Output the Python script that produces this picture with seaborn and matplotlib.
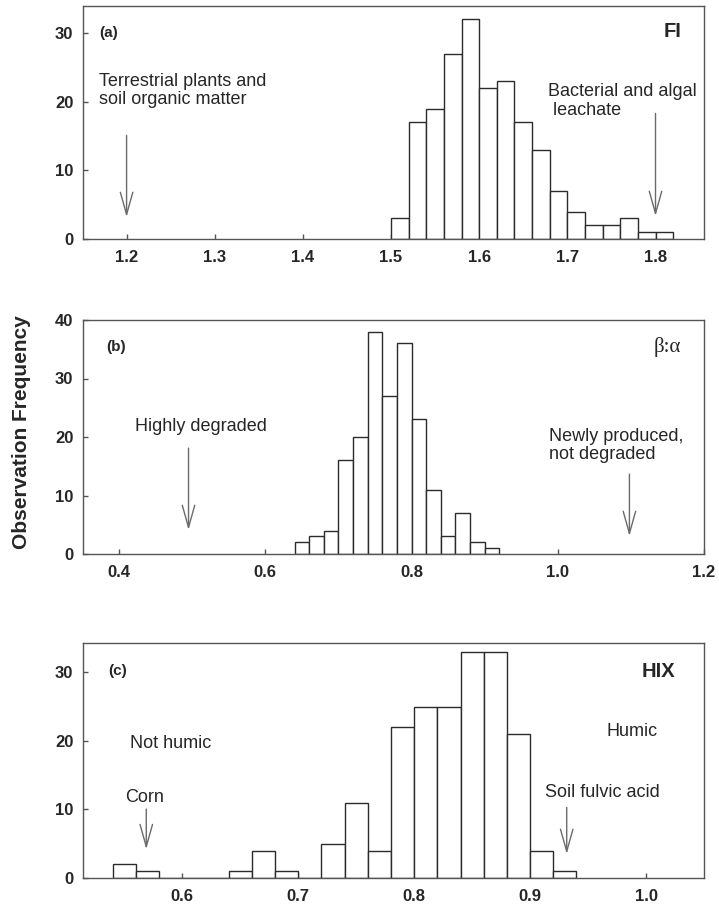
import matplotlib
matplotlib.use("Agg")
import matplotlib.pyplot as plt
import seaborn as sns
import numpy as np
import pandas as pd

# ---------------- data ----------------
# (a) FI
fi_bin_left = [1.50, 1.52, 1.54, 1.56, 1.58, 1.60, 1.62, 1.64, 1.66, 1.68,
               1.70, 1.72, 1.74, 1.76, 1.78, 1.80]
fi_counts = [3, 17, 19, 27, 32, 22, 23, 17, 13, 7, 4, 2, 2, 3, 1, 1]

# (b) beta:alpha
ba_bin_left = [0.64, 0.66, 0.68, 0.70, 0.72, 0.74, 0.76, 0.78, 0.80, 0.82,
               0.84, 0.86, 0.88, 0.90]
ba_counts = [2, 3, 4, 16, 20, 38, 27, 36, 23, 11, 3, 7, 2, 1]

# (c) HIX
hix_bin_left = [0.54, 0.56, 0.58, 0.60, 0.62, 0.64, 0.66, 0.68, 0.70, 0.72,
                0.74, 0.76, 0.78, 0.80, 0.82, 0.84, 0.86, 0.88, 0.90, 0.92]
hix_counts = [2, 1, 0, 0, 0, 1, 4, 1, 0, 5, 11, 4, 22, 25, 25, 33, 33, 21, 4, 1]

bin_width = 0.02

fi_xticks = [1.2, 1.3, 1.4, 1.5, 1.6, 1.7, 1.8]
ba_xticks = [0.4, 0.6, 0.8, 1.0, 1.2]
hix_xticks = [0.6, 0.7, 0.8, 0.9, 1.0]

# ---------------- style ----------------
sns.set_style("white")
plt.rcParams['font.family'] = ['Liberation Sans', 'DejaVu Sans']

SPINE = '#555555'
EDGE = '#2b2b2b'
ARROW = '#6a6a6a'

fig = plt.figure(figsize=(7.19, 9.09), dpi=100)
W, H = 719.0, 909.0
left = 82.5 / W
width = (704 - 82.5) / W
ax_a = fig.add_axes([left, (H - 239) / H, width, 233.3 / H])
ax_b = fig.add_axes([left, (H - 554) / H, width, 234 / H])
ax_c = fig.add_axes([left, (H - 878) / H, width, 235 / H])


def draw_hist(ax, bin_left, counts, xlim, ylim, xticks, yticks, xfmt):
    lefts = np.array(bin_left, dtype=float)
    centers = lefts + bin_width / 2
    df = pd.DataFrame({'value': centers, 'count': np.array(counts, dtype=float)})
    sns.histplot(data=df, x='value', weights='count', binwidth=bin_width,
                 binrange=(float(lefts[0]), float(lefts[-1] + bin_width)), ax=ax,
                 color='white', edgecolor=EDGE, linewidth=1.0, alpha=1.0,
                 stat='count')
    ax.set_xlim(*xlim)
    ax.set_ylim(*ylim)
    ax.set_xticks(xticks)
    ax.set_xticklabels([xfmt % t for t in xticks])
    ax.set_yticks(yticks)
    ax.set_yticklabels([str(t) for t in yticks])
    ax.set_xlabel('')
    ax.set_ylabel('')
    for s in ax.spines.values():
        s.set_color(SPINE)
        s.set_linewidth(1.0)
        s.set_visible(True)
    ax.tick_params(axis='x', direction='in', length=3.3, width=1.0,
                   color=SPINE, pad=8, labelsize=12, bottom=True, top=False)
    ax.tick_params(axis='y', direction='in', length=3.3, width=1.0,
                   color=SPINE, pad=6.5, labelsize=12, left=True, right=False)
    for lab in ax.get_xticklabels() + ax.get_yticklabels():
        lab.set_fontweight('bold')
    ax.set_facecolor('white')


def arrow(ax, x, y_top, y_tip):
    ax.annotate('', xy=(x, y_tip), xytext=(x, y_top),
                arrowprops=dict(arrowstyle='->,head_length=1.6,head_width=0.45',
                                color=ARROW, lw=1.0, shrinkA=0, shrinkB=0,
                                mutation_scale=10))


TXT = 13

# (a)
draw_hist(ax_a, fi_bin_left, fi_counts, (1.15, 1.855), (0, 34),
          fi_xticks, [0, 10, 20, 30], '%.1f')
ax_a.text(1.169, 30.0, '(a)', fontsize=11, fontweight='bold', va='center', ha='left')
ax_a.text(1.830, 30.3, 'FI', fontsize=14.5, fontweight='bold', va='center', ha='right')
ax_a.text(1.169, 21.6, 'Terrestrial plants and\nsoil organic matter', fontsize=TXT,
          va='center', ha='left', linespacing=1.1)
ax_a.text(1.678, 20.1, 'Bacterial and algal\n leachate', fontsize=TXT,
          va='center', ha='left', linespacing=1.1)
arrow(ax_a, 1.2, 15.1, 3.2)
arrow(ax_a, 1.8, 18.3, 3.35)

# (b)
draw_hist(ax_b, ba_bin_left, ba_counts, (0.35, 1.2), (0, 40),
          ba_xticks, [0, 10, 20, 30, 40], '%.1f')
ax_b.text(0.383, 35.4, '(b)', fontsize=11, fontweight='bold', va='center', ha='left')
ax_b.text(1.169, 35.4, 'β:α', fontsize=15, va='center', ha='right',
          family=['Liberation Serif', 'DejaVu Serif'])
ax_b.text(0.4215, 21.8, 'Highly degraded', fontsize=TXT, va='center', ha='left')
ax_b.text(0.988, 18.6, 'Newly produced,\nnot degraded', fontsize=TXT,
          va='center', ha='left', linespacing=1.1)
arrow(ax_b, 0.495, 18.1, 4.1)
arrow(ax_b, 1.098, 13.65, 3.07)

# (c)
draw_hist(ax_c, hix_bin_left, hix_counts, (0.514, 1.05), (0, 34.3),
          hix_xticks, [0, 10, 20, 30], '%.1f')
ax_c.text(0.5365, 30.2, '(c)', fontsize=11, fontweight='bold', va='center', ha='left')
ax_c.text(1.025, 30.1, 'HIX', fontsize=14.5, fontweight='bold', va='center', ha='right')
ax_c.text(0.5546, 19.7, 'Not humic', fontsize=TXT, va='center', ha='left')
ax_c.text(0.5508, 11.7, 'Corn', fontsize=TXT, va='center', ha='left')
ax_c.text(0.966, 21.4, 'Humic', fontsize=TXT, va='center', ha='left')
ax_c.text(0.9127, 12.5, 'Soil fulvic acid', fontsize=TXT, va='center', ha='left')
arrow(ax_c, 0.569, 10.06, 4.2)
arrow(ax_c, 0.9316, 10.3, 3.5)

# shared y label
fig.text(21.7 / W, 1 - 432.5 / H, 'Observation Frequency', rotation=90,
         fontsize=15, fontweight='bold', va='center', ha='center')

fig.savefig('out.png', dpi=100, facecolor='white')
